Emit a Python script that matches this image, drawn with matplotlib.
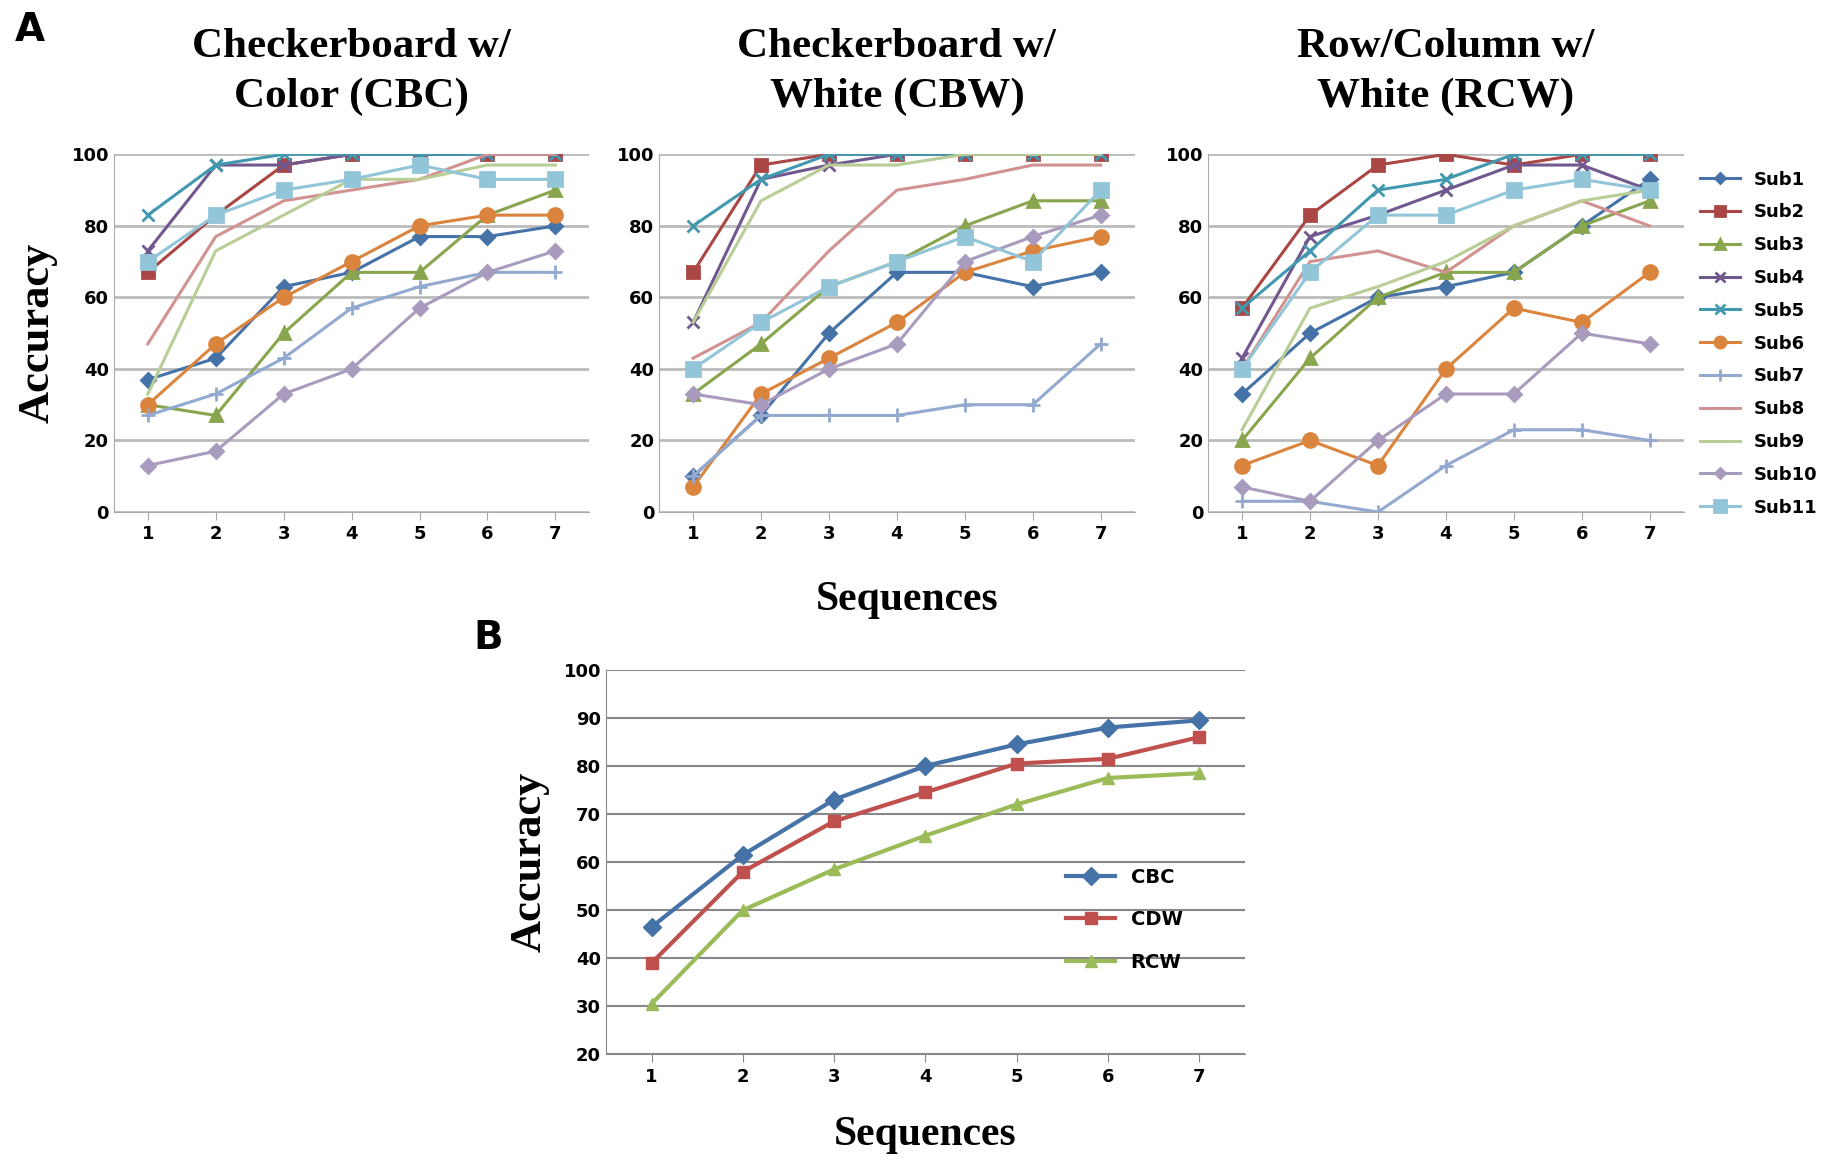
import matplotlib
matplotlib.use("Agg")
import matplotlib.pyplot as plt

seq = [1, 2, 3, 4, 5, 6, 7]
subjects = ["Sub1", "Sub2", "Sub3", "Sub4", "Sub5", "Sub6", "Sub7", "Sub8", "Sub9", "Sub10", "Sub11"]

cbc = [
    [37, 43, 63, 67, 77, 77, 80],
    [67, 83, 97, 100, 100, 100, 100],
    [30, 27, 50, 67, 67, 83, 90],
    [73, 97, 97, 100, 100, 100, 100],
    [83, 97, 100, 100, 100, 100, 100],
    [30, 47, 60, 70, 80, 83, 83],
    [27, 33, 43, 57, 63, 67, 67],
    [47, 77, 87, 90, 93, 100, 100],
    [33, 73, 83, 93, 93, 97, 97],
    [13, 17, 33, 40, 57, 67, 73],
    [70, 83, 90, 93, 97, 93, 93],
]
cbw = [
    [10, 27, 50, 67, 67, 63, 67],
    [67, 97, 100, 100, 100, 100, 100],
    [33, 47, 63, 70, 80, 87, 87],
    [53, 93, 97, 100, 100, 100, 100],
    [80, 93, 100, 100, 100, 100, 100],
    [7, 33, 43, 53, 67, 73, 77],
    [10, 27, 27, 27, 30, 30, 47],
    [43, 53, 73, 90, 93, 97, 97],
    [53, 87, 97, 97, 100, 100, 100],
    [33, 30, 40, 47, 70, 77, 83],
    [40, 53, 63, 70, 77, 70, 90],
]
rcw = [
    [33, 50, 60, 63, 67, 80, 93],
    [57, 83, 97, 100, 97, 100, 100],
    [20, 43, 60, 67, 67, 80, 87],
    [43, 77, 83, 90, 97, 97, 90],
    [57, 73, 90, 93, 100, 100, 100],
    [13, 20, 13, 40, 57, 53, 67],
    [3, 3, 0, 13, 23, 23, 20],
    [40, 70, 73, 67, 80, 87, 80],
    [23, 57, 63, 70, 80, 87, 90],
    [7, 3, 20, 33, 33, 50, 47],
    [40, 67, 83, 83, 90, 93, 90],
]

mean_names = ["CBC", "CDW", "RCW"]
mean_vals = [
    [46.5, 61.5, 73, 80, 84.5, 88, 89.5],
    [39, 58, 68.5, 74.5, 80.5, 81.5, 86],
    [30.5, 50, 58.5, 65.5, 72, 77.5, 78.5],
]

colors = ["#4572A7", "#AA4643", "#89A54E", "#71588F", "#4198AF", "#DB843D",
          "#93A9CF", "#D19392", "#B9CD96", "#A99BBD", "#92C5D8"]
markers = ["D", "s", "^", "x", "x", "o", "+", None, None, "D", "s"]
msizes = [7, 9, 9, 9, 9, 10, 10, 0, 0, 7, 10]

serif = ["Liberation Serif", "DejaVu Serif"]
fig = plt.figure(figsize=(18.36, 11.69), dpi=100)

titles = ["Checkerboard w/\nColor (CBC)", "Checkerboard w/\nWhite (CBW)", "Row/Column w/\nWhite (RCW)"]
lefts = [0.062, 0.359, 0.658]
for k, (data, title) in enumerate(zip([cbc, cbw, rcw], titles)):
    ax = fig.add_axes([lefts[k], 0.562, 0.259, 0.306])
    for i, name in enumerate(subjects):
        ax.plot(seq, data[i], color=colors[i], lw=2.2, marker=markers[i],
                ms=msizes[i], mew=2, label=name)
    ax.set_xlim(0.5, 7.5)
    ax.set_ylim(0, 100)
    ax.set_yticks(range(0, 101, 20))
    ax.set_xticks(seq)
    ax.yaxis.grid(True, color="#BBBBBB", lw=2)
    ax.set_axisbelow(True)
    for s in ["top", "right"]:
        ax.spines[s].set_visible(False)
    for s in ["left", "bottom"]:
        ax.spines[s].set_color("#AAAAAA")
    ax.tick_params(axis="y", length=0, labelsize=13)
    ax.tick_params(axis="x", length=6, color="#AAAAAA", labelsize=13)
    for t in ax.get_xticklabels() + ax.get_yticklabels():
        t.set_fontweight("bold")
    ax.set_title(title, family=serif, fontsize=31, fontweight="bold", pad=34,
                 linespacing=1.4)
    if k == 0:
        ax.set_ylabel("Accuracy", family=serif, fontsize=32, fontweight="bold", labelpad=10)
    if k == 2:
        ax.legend(loc="upper left", bbox_to_anchor=(1.0, 1.0), frameon=False,
                  prop={"weight": "bold", "size": 13}, labelspacing=0.82,
                  handlelength=2.2, markerscale=0.8)

fig.text(0.494, 0.478, "Sequences", family=serif, fontsize=30, fontweight="bold", ha="center")

axb = fig.add_axes([0.330, 0.098, 0.348, 0.329])
bcols = ["#4572A7", "#C0504D", "#9BBB59"]
bmarks = ["D", "s", "^"]
for i, name in enumerate(mean_names):
    axb.plot(seq, mean_vals[i], color=bcols[i], lw=3, marker=bmarks[i], ms=9, label=name)
axb.set_xlim(0.5, 7.5)
axb.set_ylim(20, 100)
axb.set_yticks(range(20, 101, 10))
axb.set_xticks(seq)
axb.yaxis.grid(True, color="#888888", lw=1.5)
axb.set_axisbelow(True)
for s in ["top", "right"]:
    axb.spines[s].set_visible(False)
for s in ["left", "bottom"]:
    axb.spines[s].set_color("#888888")
axb.tick_params(axis="y", length=0, labelsize=13)
axb.tick_params(axis="x", length=6, color="#888888", labelsize=13)
for t in axb.get_xticklabels() + axb.get_yticklabels():
    t.set_fontweight("bold")
axb.set_ylabel("Accuracy", family=serif, fontsize=32, fontweight="bold", labelpad=10)
axb.set_xlabel("Sequences", family=serif, fontsize=30, fontweight="bold", labelpad=22)
axb.legend(loc="lower right", bbox_to_anchor=(0.93, 0.17), frameon=False,
           prop={"weight": "bold", "size": 14}, labelspacing=1.2, handlelength=2.5)

fig.text(0.008, 0.965, "A", fontsize=28, fontweight="bold")
fig.text(0.258, 0.445, "B", fontsize=28, fontweight="bold")

fig.savefig("out.png", dpi=100, facecolor="white")
